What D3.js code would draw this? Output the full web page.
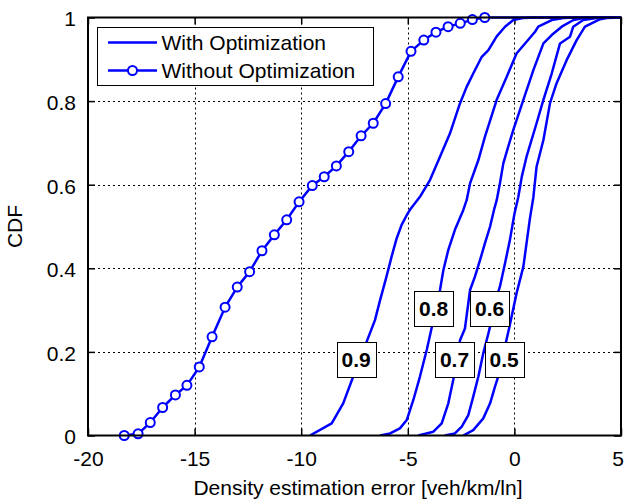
<!DOCTYPE html>
<html><head><meta charset="utf-8">
<script src="https://cdn.jsdelivr.net/npm/d3@7"></script>
<style>
body{margin:0;background:#fff;}
text{font-family:"Liberation Sans",Arial,sans-serif;}
</style></head>
<body><svg id="c" width="624" height="500"></svg>
<script>
// ---- data ----
const xTicks = [-20, -15, -10, -5, 0, 5];
const yTicks = [0, 0.2, 0.4, 0.6, 0.8, 1];
const seriesNames = ["With Optimization", "Without Optimization"];

const withoutX = [-18.30,-17.65,-17.08,-16.50,-15.90,-15.36,-14.78,-14.18,-13.57,-13.00,-12.42,-11.84,-11.26,-10.68,-10.10,-9.48,-8.92,-8.35,-7.77,-7.19,-6.62,-6.04,-5.45,-4.85,-4.25,-3.68,-3.11,-2.54,-1.97,-1.39];
const withoutY = [0.000,0.004,0.031,0.067,0.097,0.120,0.164,0.236,0.307,0.355,0.392,0.442,0.480,0.516,0.559,0.598,0.619,0.645,0.679,0.717,0.747,0.794,0.858,0.919,0.946,0.965,0.978,0.986,0.995,1.000];
const withoutTailX = [-1.39, -0.8, 5];
const withoutTailY = [1.000, 1.000, 1.000];

const levels = ["0.9", "0.8", "0.7", "0.6", "0.5"];
const with09X = [-9.59,-8.57,-8.03,-7.56,-6.54,-6.30,-6.00,-5.76,-5.52,-5.29,-5.05,-4.90,-4.43,-3.96,-3.49,-3.02,-2.55,-2.24,-1.93,-1.53,-1.22,-0.83,-0.44,-0.05,0.40,1.00,5.00];
const with09Y = [0.000,0.029,0.077,0.141,0.276,0.324,0.380,0.428,0.472,0.504,0.527,0.540,0.571,0.611,0.667,0.723,0.795,0.834,0.866,0.906,0.922,0.955,0.978,0.994,0.999,1.000,1.000];
const with08X = [-6.30,-5.83,-5.37,-5.05,-4.74,-4.43,-4.11,-3.88,-3.60,-3.49,-3.33,-3.10,-2.79,-2.40,-2.24,-2.08,-1.69,-1.38,-0.83,-0.36,0.10,0.57,0.97,1.12,1.75,2.30,3.00,5.00];
const with08Y = [0.000,0.005,0.017,0.037,0.085,0.141,0.205,0.258,0.320,0.348,0.396,0.444,0.492,0.539,0.563,0.603,0.659,0.715,0.803,0.858,0.914,0.942,0.966,0.978,0.994,0.999,1.000,1.000];
const with07X = [-4.51,-3.80,-3.41,-3.10,-2.87,-2.70,-2.55,-2.32,-2.08,-1.85,-1.61,-1.38,-1.14,-0.96,-0.83,-0.68,-0.52,-0.29,-0.05,0.42,0.89,1.36,1.75,2.22,2.77,3.23,3.80,5.00];
const with07Y = [0.000,0.009,0.029,0.077,0.133,0.180,0.228,0.256,0.348,0.380,0.420,0.460,0.500,0.539,0.563,0.603,0.651,0.691,0.731,0.803,0.874,0.938,0.958,0.978,0.994,0.999,1.000,1.000];
const with06X = [-3.26,-2.79,-2.47,-2.16,-1.93,-1.69,-1.46,-1.22,-1.07,-0.90,-0.68,-0.44,-0.21,0.00,0.18,0.35,0.57,1.04,1.36,1.75,2.14,2.61,2.76,3.23,3.86,4.30,5.00];
const with06Y = [0.000,0.005,0.021,0.049,0.093,0.141,0.197,0.244,0.276,0.320,0.356,0.412,0.468,0.530,0.570,0.620,0.667,0.747,0.803,0.866,0.938,0.954,0.978,0.994,0.999,1.000,1.000];
const with05X = [-2.40,-1.93,-1.46,-1.14,-0.91,-0.76,-0.50,-0.25,0.10,0.42,0.73,0.89,1.04,1.36,1.67,1.98,2.45,2.92,3.31,4.02,4.33,5.00];
const with05Y = [0.000,0.013,0.041,0.077,0.117,0.141,0.200,0.256,0.340,0.404,0.520,0.570,0.643,0.707,0.795,0.843,0.898,0.946,0.978,0.996,0.999,1.000];

const labelX = [-7.42, -3.79, -2.81, -1.16, -0.48];
const labelY = [0.181, 0.303, 0.183, 0.303, 0.183];

// ---- layout ----
const W = 624, H = 500;
const L = 88, R = 621, T = 17.5, B = 435.5;
const FS = "21px";
const blue = "#0000ff";
const svg = d3.select("#c");
const x = d3.scaleLinear().domain([-20, 5]).range([L, R]);
const y = d3.scaleLinear().domain([0, 1]).range([B, T]);

svg.append("rect").attr("width", W).attr("height", H).attr("fill", "#fff");

// grid
const grid = svg.append("g").attr("stroke", "#000").attr("stroke-width", 1).attr("stroke-dasharray", "2,3");
grid.selectAll(".gx").data(xTicks.slice(1, -1)).enter().append("line")
  .attr("x1", d => Math.round(x(d)) + 0.5).attr("x2", d => Math.round(x(d)) + 0.5)
  .attr("y1", T).attr("y2", B);
grid.selectAll(".gy").data(yTicks.slice(1, -1)).enter().append("line")
  .attr("y1", d => Math.round(y(d)) + 0.5).attr("y2", d => Math.round(y(d)) + 0.5)
  .attr("x1", L).attr("x2", R);

// axes
const xAxisB = d3.axisBottom(x).tickValues(xTicks).tickSizeInner(-7).tickSizeOuter(0).tickPadding(16).tickFormat(d => String(d));
const yAxisL = d3.axisLeft(y).tickValues(yTicks).tickSizeInner(-7).tickSizeOuter(0).tickPadding(12).tickFormat(d => d === 0 || d === 1 ? String(d) : d3.format(".1f")(d));
const gxB = svg.append("g").attr("transform", `translate(0,${B})`).call(xAxisB);
const gyL = svg.append("g").attr("transform", `translate(${L},0)`).call(yAxisL);
const gxT = svg.append("g").attr("transform", `translate(0,${T})`).call(d3.axisTop(x).tickValues(xTicks).tickSizeInner(-7).tickSizeOuter(0).tickFormat(""));
const gyR = svg.append("g").attr("transform", `translate(${R},0)`).call(d3.axisRight(y).tickValues(yTicks).tickSizeInner(-7).tickSizeOuter(0).tickFormat(""));
[gxB, gyL, gxT, gyR].forEach(g => {
  g.select(".domain").remove();
  g.selectAll("line").attr("stroke", "#000").attr("stroke-width", 1.5);
  g.selectAll("text").attr("fill", "#000").style("font-size", FS).style("font-family", '"Liberation Sans",Arial,sans-serif');
});
gxB.selectAll("text").attr("y", 30.5).attr("dy", null);
gxB.selectAll("text").filter(d => d === 5).attr("text-anchor", "end").attr("x", W - 0.5 - x(5));
gyL.selectAll("text").attr("dy", "0.4em");

// clip
svg.append("clipPath").attr("id", "pc").append("rect").attr("x", L).attr("y", T - 2).attr("width", R - L).attr("height", B - T + 2);

const line = d3.line().x(d => x(d[0])).y(d => y(d[1]));
const withSets = [[with09X, with09Y], [with08X, with08Y], [with07X, with07Y], [with06X, with06Y], [with05X, with05Y]];
const plot = svg.append("g").attr("clip-path", "url(#pc)");
withSets.forEach(([xs, ys]) => {
  plot.append("path").datum(xs.map((v, i) => [v, ys[i]])).attr("d", line)
    .attr("fill", "none").attr("stroke", blue).attr("stroke-width", 2.5).attr("stroke-linejoin", "round");
});
const woPts = withoutX.map((v, i) => [v, withoutY[i]]);
plot.append("path").datum(withoutTailX.map((v, i) => [v, withoutTailY[i]])).attr("d", line)
  .attr("fill", "none").attr("stroke", blue).attr("stroke-width", 2.5);
plot.append("path").datum(woPts).attr("d", line)
  .attr("fill", "none").attr("stroke", blue).attr("stroke-width", 2.5).attr("stroke-linejoin", "round");
svg.append("g").selectAll("circle").data(woPts).enter().append("circle")
  .attr("cx", d => x(d[0])).attr("cy", d => y(d[1])).attr("r", 4.5)
  .attr("fill", "#fff").attr("stroke", blue).attr("stroke-width", 2);

// frame
svg.append("rect").attr("x", L).attr("y", T).attr("width", R - L).attr("height", B - T)
  .attr("fill", "none").attr("stroke", "#000").attr("stroke-width", 2);

// level labels
const lab = svg.append("g");
levels.forEach((t, i) => {
  const cx = x(labelX[i]), cy = y(labelY[i]);
  lab.append("rect").attr("x", Math.round(cx - 19.5) + 0.5).attr("y", Math.round(cy - 17.5) + 0.5)
    .attr("width", 39).attr("height", 35).attr("fill", "#fff").attr("stroke", "#000").attr("stroke-width", 1);
  lab.append("text").attr("x", cx).attr("y", cy + 7.5).attr("text-anchor", "middle")
    .style("font-size", FS).style("font-weight", "bold").text(t);
});

// legend
const lg = svg.append("g");
lg.append("rect").attr("x", 97.5).attr("y", 27.5).attr("width", 276).attr("height", 58)
  .attr("fill", "#fff").attr("stroke", "#000").attr("stroke-width", 1);
const rowsY = [42.5, 70.5];
seriesNames.forEach((n, i) => {
  lg.append("line").attr("x1", 108).attr("x2", 157).attr("y1", rowsY[i]).attr("y2", rowsY[i])
    .attr("stroke", blue).attr("stroke-width", 2.5);
  if (i === 1) lg.append("circle").attr("cx", 132.5).attr("cy", rowsY[i]).attr("r", 4.5)
    .attr("fill", "#fff").attr("stroke", blue).attr("stroke-width", 2);
  lg.append("text").attr("x", 161.5).attr("y", rowsY[i] + 7.5).style("font-size", FS).attr("fill", "#000").text(n);
});

// axis titles
svg.append("text").attr("x", 358).attr("y", 495).attr("text-anchor", "middle")
  .style("font-size", FS).text("Density estimation error [veh/km/ln]");
svg.append("text").attr("transform", `translate(22,${(T + B) / 2}) rotate(-90)`).attr("text-anchor", "middle")
  .style("font-size", FS).text("CDF");
</script></body></html>
